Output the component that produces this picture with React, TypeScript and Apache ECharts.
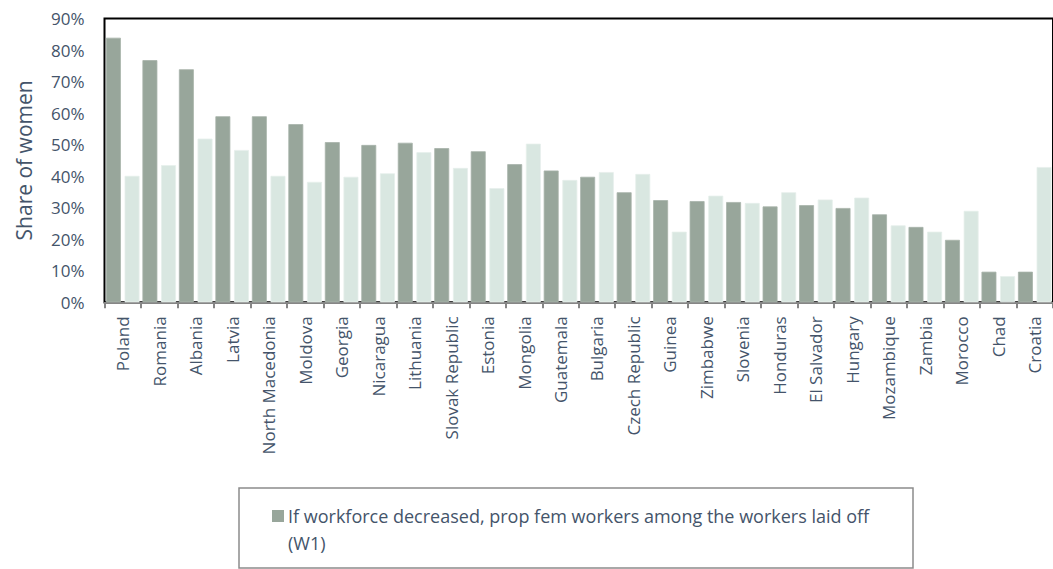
import React, { useEffect, useRef } from "react";
import * as echarts from "echarts";

const categories = [
  "Poland", "Romania", "Albania", "Latvia", "North Macedonia", "Moldova", "Georgia",
  "Nicaragua", "Lithuania", "Slovak Republic", "Estonia", "Mongolia", "Guatemala",
  "Bulgaria", "Czech Republic", "Guinea", "Zimbabwe", "Slovenia", "Honduras",
  "El Salvador", "Hungary", "Mozambique", "Zambia", "Morocco", "Chad", "Croatia",
];
const w1Values = [
  83.9, 76.8, 73.9, 59.0, 59.0, 56.5, 50.8, 49.9, 50.6, 48.9, 47.9, 43.8, 41.8,
  39.8, 34.9, 32.4, 32.1, 31.8, 30.4, 30.8, 29.9, 27.9, 23.9, 19.8, 9.7, 9.7,
];
const w2Values = [
  40.1, 43.5, 51.9, 48.3, 40.1, 38.2, 39.8, 40.9, 47.6, 42.6, 36.2, 50.3, 38.8,
  41.3, 40.7, 22.4, 33.8, 31.5, 34.9, 32.6, 33.2, 24.4, 22.4, 29.0, 8.3, 42.9,
];
const w1Name = "If workforce decreased, prop fem workers among the workers laid off (W1)";
const w2Name = "Series 2";
const legendLines = ["If workforce decreased, prop fem workers among the workers laid off", "(W1)"];
const yTicks = { min: 0, max: 90, interval: 10 };
const yName = "Share of women";

const TEXT = "#44546a";
const DARK = "#98a69b";
const LIGHT = "#d9e7e1";
const FONT = "'Open Sans', sans-serif";

export default function App() {
  const ref = useRef<HTMLDivElement>(null);
  useEffect(() => {
    if (!ref.current) return;
    const chart = echarts.init(ref.current, undefined, { renderer: "svg" });
    chart.setOption({
      animation: false,
      backgroundColor: "#ffffff",
      textStyle: { fontFamily: FONT },
      grid: {
        left: 104.5,
        top: 18.5,
        width: 956.8,
        height: 283.8,
        show: true,
        borderColor: "#000000",
        borderWidth: 2,
        backgroundColor: "transparent",
      },
      legend: { show: false },
      xAxis: {
        type: "category",
        data: categories,
        axisLine: { show: true, lineStyle: { color: "#868686", width: 2 } },
        axisTick: { show: true, length: 6, lineStyle: { color: "#868686", width: 2 } },
        axisLabel: {
          rotate: 90,
          interval: 0,
          margin: 14,
          color: TEXT,
          fontSize: 17,
          fontFamily: FONT,
        },
      },
      yAxis: {
        type: "value",
        min: yTicks.min,
        max: yTicks.max,
        interval: yTicks.interval,
        name: yName,
        nameLocation: "middle",
        nameGap: 70,
        nameTextStyle: { color: TEXT, fontSize: 21, fontFamily: FONT },
        axisLine: { show: false },
        axisTick: { show: false },
        splitLine: { show: false },
        axisLabel: {
          formatter: "{value}%",
          color: TEXT,
          fontSize: 17,
          margin: 20,
          fontFamily: FONT,
        },
      },
      series: [
        {
          name: w1Name,
          type: "bar",
          data: w1Values,
          barCategoryGap: "8%",
          barGap: "25%",
          itemStyle: { color: DARK, borderColor: "#a7b3aa", borderWidth: 0.8 },
        },
        {
          name: w2Name,
          type: "bar",
          data: w2Values,
          barCategoryGap: "8%",
          barGap: "25%",
          itemStyle: { color: LIGHT, borderColor: "#e6efeb", borderWidth: 0.8 },
        },
      ],
      graphic: [
        {
          type: "rect",
          shape: { x: 239, y: 488, width: 674, height: 80 },
          style: { fill: "#ffffff", stroke: "#8c8c8c", lineWidth: 1.5 },
        },
        {
          type: "rect",
          shape: { x: 272, y: 510, width: 12, height: 12 },
          style: { fill: DARK },
        },
        {
          type: "text",
          x: 288,
          y: 502.5,
          style: {
            text: legendLines.join("\n"),
            font: `18px ${FONT}`,
            fill: TEXT,
            lineHeight: 27,
            verticalAlign: "top",
            align: "left",
          },
        },
      ],
    });
    return () => chart.dispose();
  }, []);
  return (
    <div
      ref={ref}
      style={{ position: "fixed", left: 0, top: 0, width: 1053, height: 569 }}
    />
  );
}
